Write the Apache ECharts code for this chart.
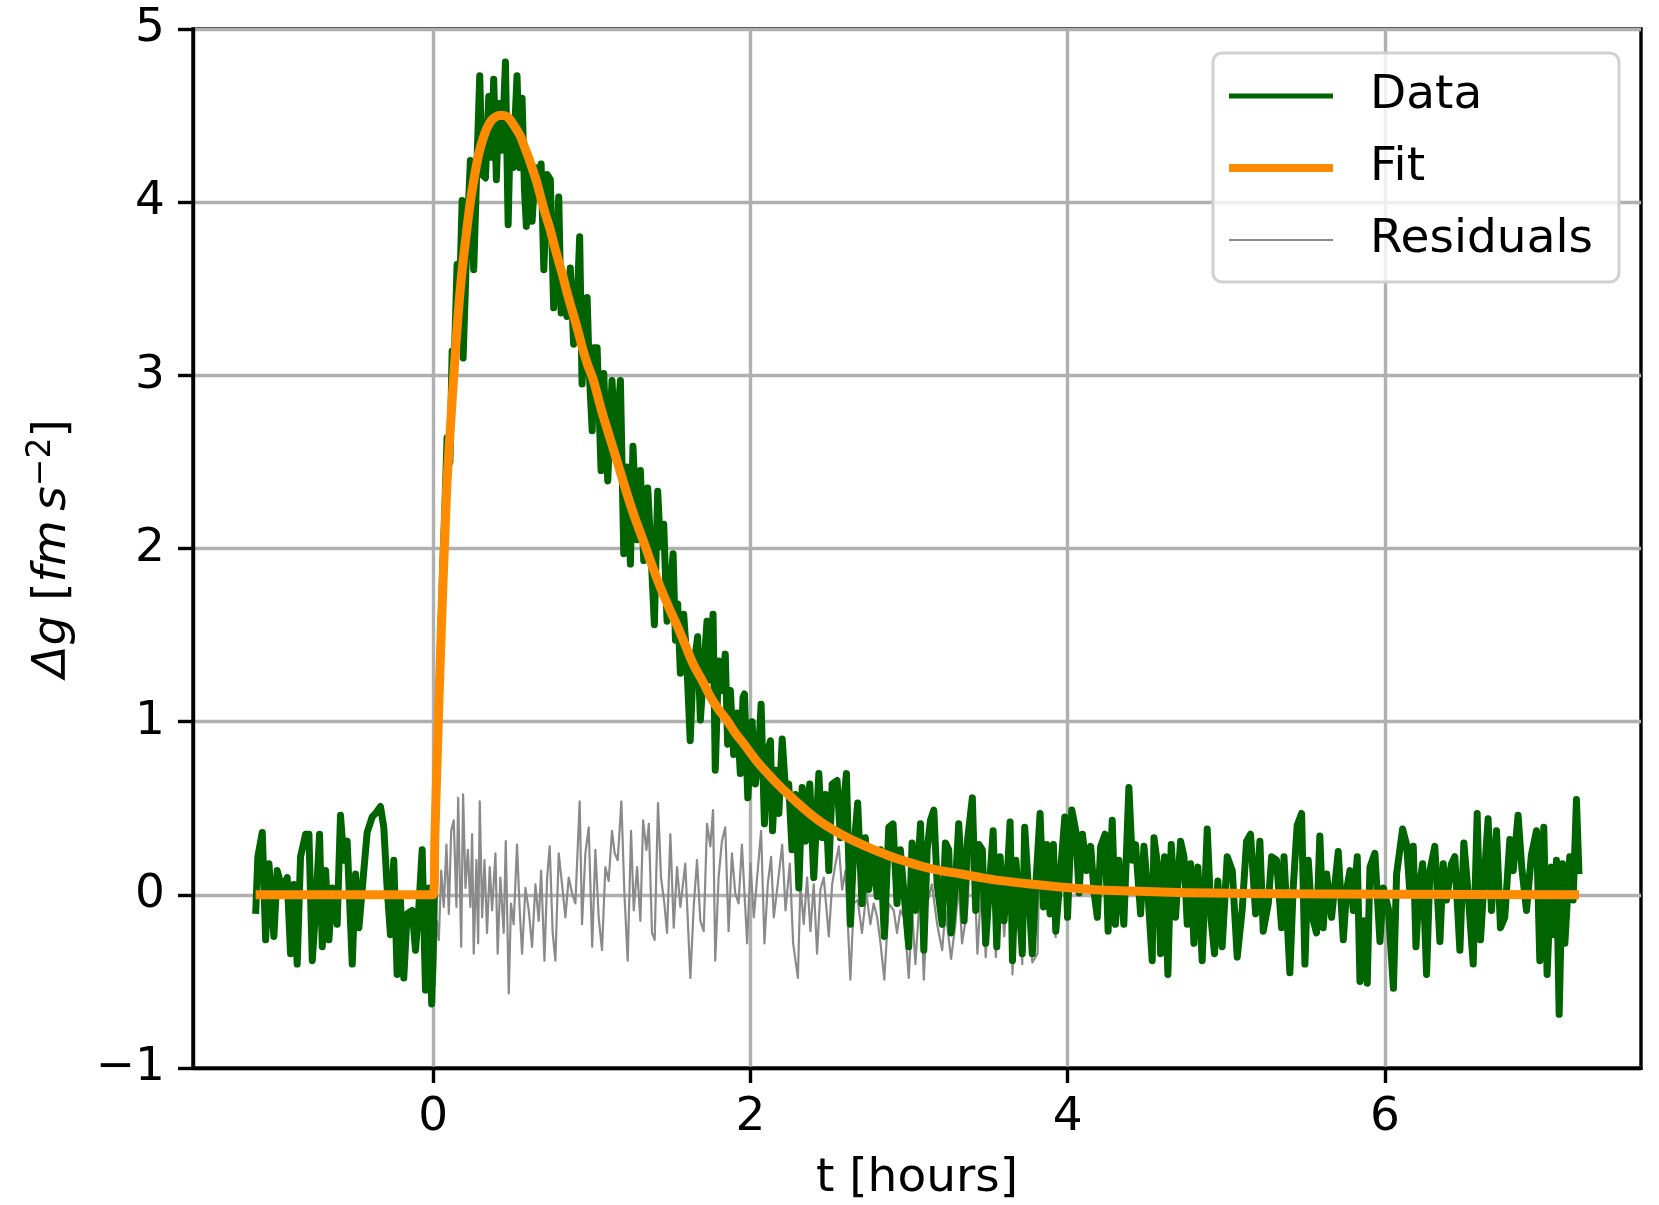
<!DOCTYPE html>
<html>
<head>
<meta charset="utf-8">
<script src="https://cdn.jsdelivr.net/npm/echarts@6/dist/echarts.min.js"></script>
<style>
html,body{margin:0;padding:0;background:#fff;}
#chart{width:1659px;height:1205px;}
</style>
</head>
<body>
<div id="chart"></div>
<script>
// ---- values ----
const dataT = [-1.120,-1.106,-1.078,-1.057,-1.036,-1.005,-0.984,-0.952,-0.921,-0.900,-0.879,-0.858,-0.837,-0.805,-0.784,-0.763,-0.742,-0.717,-0.700,-0.679,-0.658,-0.637,-0.606,-0.585,-0.564,-0.543,-0.511,-0.490,-0.469,-0.438,-0.417,-0.385,-0.364,-0.333,-0.312,-0.291,-0.270,-0.249,-0.228,-0.207,-0.186,-0.165,-0.133,-0.112,-0.091,-0.070,-0.049,-0.028,-0.010,0.005,0.015,0.030,0.045,0.060,0.072,0.087,0.105,0.119,0.129,0.150,0.161,0.182,0.188,0.213,0.234,0.255,0.276,0.293,0.308,0.329,0.350,0.365,0.381,0.398,0.413,0.434,0.455,0.472,0.486,0.503,0.528,0.545,0.560,0.575,0.587,0.602,0.623,0.644,0.665,0.680,0.697,0.718,0.738,0.759,0.776,0.791,0.806,0.822,0.843,0.864,0.885,0.906,0.923,0.938,0.953,0.970,0.984,1.002,1.012,1.033,1.058,1.075,1.100,1.127,1.148,1.180,1.201,1.222,1.243,1.259,1.285,1.306,1.327,1.352,1.369,1.394,1.415,1.432,1.453,1.474,1.495,1.512,1.527,1.541,1.558,1.579,1.596,1.620,1.637,1.667,1.684,1.709,1.726,1.743,1.764,1.778,1.799,1.820,1.841,1.856,1.873,1.894,1.915,1.936,1.953,1.962,1.983,2.010,2.031,2.052,2.067,2.088,2.109,2.126,2.139,2.158,2.179,2.200,2.221,2.241,2.262,2.284,2.305,2.326,2.346,2.374,2.399,2.431,2.452,2.473,2.494,2.515,2.546,2.567,2.605,2.630,2.651,2.676,2.703,2.724,2.745,2.773,2.799,2.820,2.844,2.872,2.899,2.924,2.945,2.966,2.998,3.019,3.040,3.072,3.093,3.114,3.135,3.156,3.177,3.209,3.229,3.250,3.265,3.292,3.313,3.347,3.368,3.399,3.420,3.441,3.462,3.483,3.504,3.530,3.553,3.574,3.599,3.621,3.637,3.652,3.673,3.693,3.714,3.729,3.757,3.777,3.798,3.826,3.847,3.868,3.889,3.910,3.925,3.952,3.982,3.999,4.026,4.051,4.072,4.093,4.120,4.145,4.167,4.187,4.208,4.236,4.255,4.281,4.301,4.322,4.354,4.386,4.407,4.428,4.460,4.481,4.506,4.533,4.544,4.569,4.586,4.611,4.632,4.653,4.680,4.712,4.733,4.754,4.775,4.796,4.821,4.848,4.880,4.905,4.926,4.947,4.974,5.006,5.038,5.069,5.100,5.128,5.153,5.185,5.212,5.233,5.265,5.286,5.317,5.349,5.364,5.401,5.422,5.447,5.475,5.496,5.517,5.538,5.569,5.590,5.611,5.633,5.664,5.706,5.738,5.759,5.780,5.801,5.826,5.843,5.868,5.889,5.906,5.937,5.969,5.990,6.022,6.054,6.074,6.112,6.137,6.158,6.179,6.196,6.217,6.238,6.263,6.284,6.315,6.347,6.368,6.389,6.420,6.441,6.473,6.498,6.525,6.557,6.582,6.603,6.624,6.651,6.672,6.704,6.729,6.756,6.788,6.809,6.840,6.863,6.893,6.924,6.956,6.977,7.002,7.023,7.050,7.065,7.082,7.099,7.120,7.135,7.166,7.187,7.208,7.224];
const dataV = [-0.11,0.22,0.36,-0.26,0.18,-0.24,0.14,0.03,0.10,-0.34,0.06,-0.40,0.22,0.35,0.35,-0.38,-0.09,0.35,-0.30,0.14,-0.26,0.04,-0.17,0.46,0.20,0.31,-0.40,0.12,-0.19,0.14,0.36,0.45,0.47,0.51,0.39,0.04,-0.23,0.20,-0.46,-0.03,-0.48,-0.11,-0.09,-0.32,-0.07,0.26,-0.55,0.04,-0.63,-0.10,0.45,1.00,1.45,1.90,2.20,2.64,2.50,3.14,2.97,3.64,3.30,4.01,3.10,3.80,4.24,3.61,4.24,4.73,4.16,4.14,4.61,4.26,4.71,4.13,4.57,4.30,4.81,3.87,4.43,4.20,4.73,4.20,4.60,4.07,3.86,4.18,3.89,4.20,4.11,4.22,3.61,4.16,4.13,3.39,3.59,4.03,3.36,3.47,3.34,3.62,3.18,3.39,3.80,2.95,3.28,3.45,3.01,2.68,3.16,3.16,2.45,3.01,2.39,2.97,2.55,2.97,1.97,2.47,1.91,2.59,2.05,2.45,1.93,2.35,2.05,1.56,2.33,2.01,2.14,1.58,1.76,1.97,1.47,1.68,1.28,1.62,1.39,0.89,1.28,1.49,1.01,1.35,1.58,1.24,1.62,0.72,1.35,1.18,1.39,0.87,1.18,0.81,1.05,0.70,1.14,1.16,0.56,1.00,0.64,0.83,1.10,0.41,0.83,0.89,0.37,0.72,0.47,0.90,0.60,0.64,0.26,0.58,0.04,0.62,0.31,0.64,0.10,0.70,0.33,0.58,0.14,0.64,0.66,0.33,0.70,-0.17,0.26,0.53,-0.05,0.33,0.03,0.26,-0.01,0.26,-0.24,0.39,0.41,-0.05,0.26,0.03,-0.30,0.30,-0.09,0.41,-0.32,0.26,0.43,0.49,0.06,-0.17,0.30,0.26,-0.22,0.06,0.41,-0.15,0.31,0.56,-0.09,0.29,0.26,-0.28,0.01,0.37,-0.30,0.22,-0.15,0.14,0.42,-0.38,0.20,-0.03,-0.34,0.39,-0.03,-0.34,0.04,0.47,-0.07,0.29,-0.11,0.29,-0.21,0.10,0.45,-0.13,0.49,0.37,0.01,0.35,0.14,0.28,0.01,-0.13,0.28,0.35,-0.21,0.43,-0.17,0.20,-0.17,0.62,0.20,0.29,-0.11,0.28,0.01,-0.38,0.33,0.16,-0.34,0.22,-0.46,0.29,-0.13,0.31,0.22,-0.17,0.18,-0.28,0.16,-0.38,0.38,-0.15,-0.34,0.08,-0.30,0.22,0.14,-0.36,-0.09,0.31,0.35,-0.11,0.31,-0.21,-0.05,0.22,0.20,-0.19,0.22,-0.45,0.04,0.40,0.47,-0.40,0.20,-0.11,-0.22,0.34,-0.19,0.12,-0.13,0.25,-0.26,0.03,0.14,-0.09,0.22,-0.50,-0.15,-0.51,0.16,0.24,-0.27,0.04,-0.08,-0.54,0.12,0.38,0.29,0.01,0.28,-0.30,0.04,0.18,-0.46,0.14,0.28,-0.27,0.18,-0.03,0.18,0.22,-0.32,0.30,0.01,-0.40,0.47,-0.26,0.06,0.44,-0.09,0.37,-0.19,-0.13,0.32,0.14,0.46,0.16,-0.09,0.23,0.37,-0.38,0.39,-0.46,0.16,-0.23,0.20,-0.69,0.18,-0.28,0.22,-0.03,0.55,0.12];

const fitT = [-1.12,0,0.01,0.02,0.03,0.04,0.05,0.06,0.075,0.087,0.108,0.13,0.155,0.18,0.21,0.235,0.26,0.287,0.315,0.34,0.365,0.39,0.415,0.445,0.47,0.497,0.525,0.55,0.575,0.60,0.63,0.654,0.68,0.707,0.735,0.76,0.79,0.812,0.84,0.864,0.89,0.917,0.94,0.97,1.01,1.06,1.12,1.17,1.22,1.27,1.33,1.38,1.43,1.49,1.54,1.59,1.64,1.70,1.75,1.80,1.85,1.90,1.96,2.05,2.15,2.25,2.36,2.46,2.57,2.68,2.78,2.89,2.99,3.10,3.20,3.33,3.45,3.55,3.75,3.95,4.17,4.40,4.59,4.90,5.34,6.00,7.224];
const fitV = [0,0,0.33,0.65,0.95,1.24,1.51,1.77,2.12,2.39,2.70,3.01,3.33,3.59,3.83,4.01,4.15,4.28,4.37,4.43,4.47,4.49,4.50,4.50,4.49,4.46,4.42,4.38,4.32,4.26,4.18,4.11,4.02,3.93,3.85,3.76,3.66,3.59,3.49,3.41,3.33,3.24,3.16,3.07,2.97,2.80,2.62,2.47,2.32,2.18,2.03,1.90,1.78,1.65,1.55,1.44,1.33,1.23,1.14,1.07,1.01,0.94,0.87,0.76,0.66,0.57,0.48,0.41,0.35,0.30,0.26,0.22,0.19,0.16,0.14,0.12,0.10,0.085,0.064,0.045,0.03,0.022,0.016,0.01,0.006,0.003,0];

const resT = [0.000,0.010,0.022,0.035,0.050,0.066,0.083,0.098,0.113,0.129,0.146,0.157,0.176,0.188,0.203,0.218,0.234,0.245,0.255,0.272,0.283,0.293,0.308,0.323,0.339,0.356,0.371,0.392,0.406,0.423,0.444,0.457,0.476,0.490,0.507,0.528,0.545,0.560,0.581,0.602,0.623,0.644,0.665,0.680,0.701,0.718,0.734,0.753,0.770,0.791,0.812,0.833,0.854,0.875,0.896,0.923,0.938,0.959,0.980,1.002,1.022,1.043,1.064,1.085,1.106,1.127,1.144,1.163,1.186,1.205,1.226,1.247,1.264,1.285,1.306,1.323,1.344,1.359,1.379,1.396,1.417,1.436,1.457,1.474,1.495,1.516,1.537,1.558,1.589,1.621,1.642,1.663,1.684,1.705,1.726,1.747,1.764,1.778,1.799,1.820,1.841,1.862,1.883,1.904,1.925,1.946,1.979,2.000,2.021,2.042,2.067,2.088,2.109,2.130,2.147,2.168,2.200,2.221,2.248,2.269,2.299,2.315,2.336,2.357,2.378,2.399,2.420,2.441,2.462,2.494,2.515,2.536,2.557,2.578,2.599,2.630,2.651,2.676,2.703,2.731,2.756,2.777,2.799,2.820,2.844,2.872,2.903,2.924,2.945,2.970,2.998,3.019,3.040,3.072,3.093,3.114,3.144,3.177,3.209,3.229,3.265,3.292,3.313,3.334,3.366,3.399,3.431,3.462,3.483,3.530,3.547,3.574,3.600,3.637,3.652,3.673,3.714,3.729,3.777,3.810,3.826,3.868,3.925];
const resV = [-0.08,-0.52,-0.15,-0.26,0.14,-0.07,0.29,-0.11,0.37,0.43,-0.07,0.56,-0.30,0.58,0.04,0.26,-0.07,0.35,-0.34,0.20,-0.28,0.54,-0.13,0.20,-0.22,0.16,-0.09,0.24,-0.34,0.10,-0.22,0.31,-0.57,-0.05,-0.17,0.29,-0.09,-0.34,0.04,-0.09,-0.30,0.06,-0.15,0.14,-0.38,0.10,0.28,-0.22,-0.38,0.24,0.06,-0.13,0.10,0.01,-0.05,0.54,-0.17,0.24,0.39,-0.30,0.26,-0.13,-0.32,0.16,0.08,0.37,0.24,0.20,0.54,0.01,-0.38,0.37,-0.09,0.16,-0.15,0.43,0.26,0.41,-0.22,-0.26,0.53,0.10,-0.05,-0.22,0.35,-0.19,0.16,-0.07,0.18,-0.48,-0.07,0.20,-0.15,-0.21,0.41,0.28,0.49,-0.38,0.10,0.31,0.39,-0.21,0.24,0.01,-0.05,0.29,-0.28,0.18,-0.13,0.10,0.37,-0.28,0.06,0.22,-0.13,0.03,0.29,-0.09,0.18,-0.28,-0.48,0.06,-0.17,0.10,-0.21,0.06,-0.34,0.03,0.10,-0.24,0.06,0.18,0.28,0.03,0.14,-0.49,-0.05,-0.03,-0.22,0.01,-0.17,-0.05,-0.13,-0.28,-0.49,-0.05,-0.09,-0.22,-0.09,-0.13,-0.48,-0.09,-0.40,0.06,-0.49,-0.05,0.06,-0.17,-0.32,-0.09,-0.37,-0.17,0.06,-0.28,-0.09,0.46,-0.34,0.16,-0.36,0.28,-0.36,0.12,-0.24,0.33,-0.46,0.12,-0.40,0.32,-0.39,-0.34,0.40,0.22,-0.25];

const xTicks = [0, 2, 4, 6];
const yMin = -1, yMax = 5, yStep = 1;
const xMin = -1.515, xMax = 7.615;
const seriesNames = ['Data', 'Fit', 'Residuals'];
const xTitle = 't [hours]';

// ---- build ----
const zip = (a, b) => a.map((v, i) => [v, b[i]]);
const FONT = 'DejaVu Sans';
const FS = 47;
const minus = v => String(v).replace('-', '\u2212');
const bar = h => 'path://M0 0H104V' + h + 'H0Z';
const chart = echarts.init(document.getElementById('chart'), null, {renderer: 'canvas'});
chart.setOption({
  animation: false,
  backgroundColor: '#ffffff',
  grid: {
    left: 193, right: 18, top: 29, bottom: 137,
    show: true, borderColor: '#000', borderWidth: 3.4, backgroundColor: 'transparent',
    outerBoundsMode: 'none'
  },
  legend: {
    data: [
      {name: seriesNames[0], icon: bar(5)},
      {name: seriesNames[1], icon: bar(8)},
      {name: seriesNames[2], icon: bar(2)}
    ],
    orient: 'vertical',
    left: 1213, top: 53,
    padding: [16, 26, 15, 16],
    itemWidth: 104, itemHeight: 40, itemGap: 18, symbolKeepAspect: true,
    backgroundColor: 'rgba(255,255,255,0.8)',
    borderColor: '#d0d0d0', borderWidth: 3, borderRadius: 9,
    textStyle: {fontFamily: FONT, fontSize: FS, color: '#000', padding: [0, 0, 0, 32], lineHeight: 54}
  },
  xAxis: {
    type: 'value', min: xMin, max: xMax,
    name: xTitle, nameLocation: 'middle', nameGap: 87,
    nameTextStyle: {fontFamily: FONT, fontSize: FS, color: '#000'},
    axisLine: {show: true, onZero: false, lineStyle: {color: '#000', width: 3.4}},
    axisTick: {show: true, inside: false, length: 15, customValues: xTicks, lineStyle: {color: '#000', width: 3.4}},
    axisLabel: {customValues: xTicks, margin: 26, fontFamily: FONT, fontSize: FS, color: '#000', formatter: minus},
    splitLine: {show: true, lineStyle: {color: '#b0b0b0', width: 3.4}}
  },
  yAxis: {
    type: 'value', min: yMin, max: yMax, interval: yStep,
    name: '{i|\u0394g} [{i|fm\u2009s}{sup|\u22122}]', nameLocation: 'middle', nameGap: 112, nameRotate: 90,
    nameTextStyle: {fontFamily: FONT, fontSize: FS, color: '#000', lineHeight: 56,
      rich: {
        i: {fontFamily: FONT, fontSize: FS, fontStyle: 'italic', color: '#000', lineHeight: 56},
        sup: {fontFamily: FONT, fontSize: 33, color: '#000', verticalAlign: 'top', lineHeight: 36}
      }},
    axisLine: {show: true, onZero: false, lineStyle: {color: '#000', width: 3.4}},
    axisTick: {show: true, inside: false, length: 15, lineStyle: {color: '#000', width: 3.4}},
    axisLabel: {margin: 28, fontFamily: FONT, fontSize: FS, color: '#000', formatter: minus},
    splitLine: {show: true, lineStyle: {color: '#b0b0b0', width: 3.4}}
  },
  series: [
    {
      name: 'Residuals', type: 'line', data: zip(resT, resV), symbol: 'none', z: 2,
      lineStyle: {color: '#8a8a8a', width: 2.2, join: 'round'}, itemStyle: {color: '#8a8a8a'}
    },
    {
      name: 'Data', type: 'line', data: zip(dataT, dataV), symbol: 'none', z: 3,
      lineStyle: {color: '#006400', width: 7, join: 'round'}, itemStyle: {color: '#006400'}
    },
    {
      name: 'Fit', type: 'line', data: zip(fitT, fitV), symbol: 'none', smooth: 0.3, z: 4,
      lineStyle: {color: '#ff8c00', width: 9, join: 'round'}, itemStyle: {color: '#ff8c00'}
    }
  ]
});
</script>
</body>
</html>
